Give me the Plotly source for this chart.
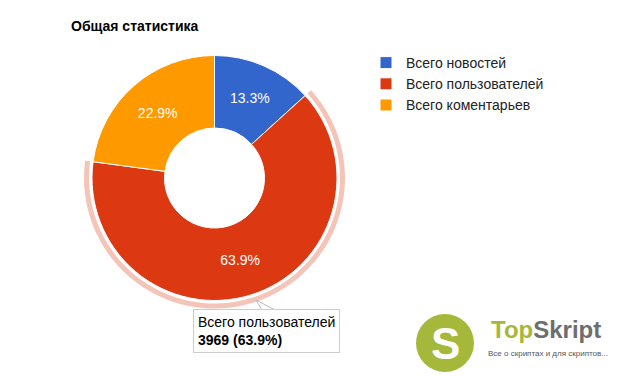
import plotly.graph_objects as go

# ---- data ----
labels = ["Всего новостей", "Всего пользователей", "Всего коментарьев"]
values = [824, 3969, 1422]
colors = ["#3366cc", "#dc3912", "#ff9900"]
title_text = "Общая статистика"
highlight_index = 1

W, H = 618, 376
cx, cy, R = 214.5, 178, 122.5
hole_r = 50
ring_in, ring_out = 125.5, 130.5
FONT = "Arial, Liberation Sans, sans-serif"

def px_dom(c, r, total, flip=False):
    if flip:
        c = total - c
    return [(c - r) / total, (c + r) / total]

fig = go.Figure()

# highlight ring behind the hovered slice
ring_colors = ["rgba(0,0,0,0)"] * len(values)
ring_colors[highlight_index] = "#f4c4b8"
fig.add_trace(go.Pie(
    labels=labels, values=values, sort=False, direction="clockwise", rotation=0,
    hole=ring_in / ring_out, marker=dict(colors=ring_colors, line=dict(width=0)),
    textinfo="none", hoverinfo="skip", showlegend=False,
    domain=dict(x=px_dom(cx, ring_out, W), y=px_dom(cy, ring_out, H, flip=True)),
))

fig.add_trace(go.Pie(
    labels=labels, values=values, sort=False, direction="clockwise", rotation=0,
    hole=hole_r / R, marker=dict(colors=colors, line=dict(color="white", width=1)),
    texttemplate="%{percent:.1%}", textposition="inside",
    insidetextorientation="horizontal",
    textfont=dict(family=FONT, size=14, color="white"),
    hoverinfo="skip", showlegend=True,
    domain=dict(x=px_dom(cx, R, W), y=px_dom(cy, R, H, flip=True)),
))

total = sum(values)
pct = values[highlight_index] / total * 100
tooltip = f"{labels[highlight_index]}<br><b>{values[highlight_index]} ({pct:.1f}%)</b>"

annotations = [
    dict(text=f"<b>{title_text}</b>", x=69 / W, y=1 - 26 / H, xref="paper", yref="paper",
         xanchor="left", yanchor="middle", showarrow=False,
         font=dict(family=FONT, size=14, color="#000")),
    dict(text=tooltip, x=193 / W, y=1 - 309 / H, xref="paper", yref="paper",
         xanchor="left", yanchor="top", showarrow=False, align="left",
         bgcolor="white", bordercolor="#cccccc", borderwidth=1, borderpad=4,
         font=dict(family=FONT, size=14, color="#000")),
    # logo
    dict(text="<b>S</b>", x=445 / W, y=1 - 343 / H, xref="paper", yref="paper",
         xanchor="center", yanchor="middle",
         showarrow=False, font=dict(family=FONT, size=44, color="white")),
    dict(text="<b><span style='color:#a6b83a'>Top</span><span style='color:#6e6e6e'>Skript</span></b>",
         x=489 / W, y=1 - 329 / H, xref="paper", yref="paper", xanchor="left", yanchor="middle",
         showarrow=False, font=dict(family=FONT, size=24)),
    dict(text="Все о скриптах и для скриптов...", x=486 / W, y=1 - 353 / H,
         xref="paper", yref="paper", xanchor="left", yanchor="middle", showarrow=False,
         font=dict(family=FONT, size=8, color="#555")),
]

shapes = [
    dict(type="circle", xref="paper", yref="paper",
         x0=(445 - 29) / W, x1=(445 + 29) / W, y0=1 - (343 + 29) / H, y1=1 - (343 - 29) / H,
         fillcolor="#a6b83a", line=dict(width=0), layer="below"),
    dict(type="line", xref="paper", yref="paper", x0=256 / W, y0=1 - 300 / H,
         x1=262 / W, y1=1 - 310 / H, line=dict(color="#bbbbbb", width=1)),
    dict(type="line", xref="paper", yref="paper", x0=256 / W, y0=1 - 300 / H,
         x1=275 / W, y1=1 - 310 / H, line=dict(color="#bbbbbb", width=1)),
]

fig.update_layout(
    width=W, height=H, margin=dict(l=0, r=0, t=0, b=0),
    paper_bgcolor="white", plot_bgcolor="white",
    legend=dict(x=366 / W, y=1 - 47 / H, xanchor="left", yanchor="top",
                font=dict(family=FONT, size=14, color="#222"),
                itemwidth=30, bgcolor="rgba(0,0,0,0)"),
    annotations=annotations, shapes=shapes,
)

fig.write_html("out.html", config=dict(displayModeBar=False),
               post_script="document.body.style.margin='0';document.body.style.overflow='hidden';")
